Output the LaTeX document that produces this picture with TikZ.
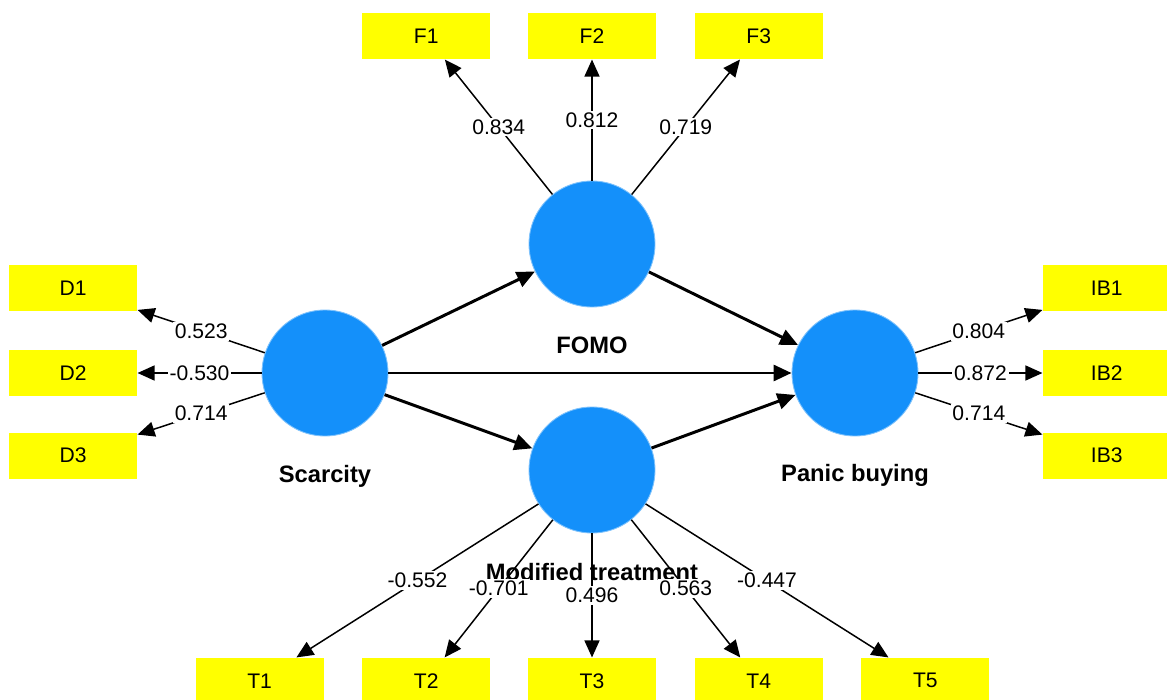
\documentclass[tikz,border=0pt]{standalone}
\usepackage{fontspec}
\setmainfont{Liberation Sans}
\definecolor{lvblue}{RGB}{20, 144, 250}
\definecolor{mvyellow}{RGB}{255, 255, 0}
\usetikzlibrary{arrows.meta, positioning}

\begin{document}
\begin{tikzpicture}[
    node distance=0.74cm and 0.76cm,
    latent/.style={circle, fill=lvblue, draw=lvblue!55, line width=0.5pt,
                   minimum size=2.52cm, inner sep=0pt},
    indicator/.style={rectangle, fill=mvyellow, minimum width=2.56cm,
                      minimum height=0.92cm, inner sep=0pt,
                      font=\fontsize{12}{14}\selectfont},
    lvname/.style={inner sep=0pt, font=\fontsize{13.5}{16}\selectfont\bfseries},
    loading/.style={-{Triangle[length=0.34cm, width=0.3cm]}, line width=0.85pt},
    structural/.style={-{Triangle[length=0.36cm, width=0.32cm]}, line width=1.7pt},
    weight/.style={fill=white, inner sep=1pt, font=\fontsize{12}{14}\selectfont}
  ]
  \useasboundingbox (0,0) rectangle (23.34,-14);

  % Latent variables
  \node[latent] (fomo) at (11.84,-4.88) {};
  \node[latent] (scar) at (6.50,-7.46) {};
  \node[latent] (panic) at (17.10,-7.46) {};
  \node[latent] (modt) at (11.84,-9.40) {};

  % Construct names
  \node[lvname, below=0.58cm of fomo] (fomoname) {FOMO};
  \node[lvname, below=0.58cm of scar] (scarname) {Scarcity};
  \node[lvname, below=0.56cm of panic] (panicname) {Panic buying};
  \node[lvname, below=0.6cm of modt] (modtname) {Modified treatment};

  % Indicators — FOMO
  \node[indicator, above=2.42cm of fomo] (f2) {F2};
  \node[indicator, left=0.74cm of f2] (f1) {F1};
  \node[indicator, right=of f2] (f3) {F3};

  % Indicators — Scarcity
  \node[indicator, left=2.48cm of scar] (d2) {D2};
  \node[indicator, above=0.76cm of d2] (d1) {D1};
  \node[indicator, below=0.72cm of d2] (d3) {D3};

  % Indicators — Panic buying
  \node[indicator, right=2.48cm of panic] (ib2) {IB2};
  \node[indicator, above=0.76cm of ib2] (ib1) {IB1};
  \node[indicator, below=0.72cm of ib2] (ib3) {IB3};

  % Indicators — Modified treatment
  \node[indicator, below=2.48cm of modt] (t3) {T3};
  \node[indicator, left=0.74cm of t3] (t2) {T2};
  \node[indicator, left=of t2] (t1) {T1};
  \node[indicator, right=of t3] (t4) {T4};
  \node[indicator, right=of t4] (t5) {T5};

  % Outer model
  \draw[loading] (fomo) -- node[weight] {0.834} (f1);
  \draw[loading] (fomo) -- node[weight] {0.812} (f2);
  \draw[loading] (fomo) -- node[weight] {0.719} (f3);

  \draw[loading] (scar) -- node[weight] {0.523} (d1);
  \draw[loading] (scar) -- node[weight] {-0.530} (d2);
  \draw[loading] (scar) -- node[weight] {0.714} (d3);

  \draw[loading] (panic) -- node[weight] {0.804} (ib1);
  \draw[loading] (panic) -- node[weight] {0.872} (ib2);
  \draw[loading] (panic) -- node[weight] {0.714} (ib3);

  \draw[loading] (modt) -- node[weight] {-0.552} (t1);
  \draw[loading] (modt) -- node[weight] {-0.701} (t2);
  \draw[loading] (modt) -- node[weight] {0.496} (t3);
  \draw[loading] (modt) -- node[weight] {0.563} (t4);
  \draw[loading] (modt) -- node[weight] {-0.447} (t5);

  % Inner model
  \draw[structural] (scar) -- (fomo);
  \draw[structural] (scar) -- (panic);
  \draw[structural] (scar) -- (modt);
  \draw[structural] (fomo) -- (panic);
  \draw[structural] (modt) -- (panic);

\end{tikzpicture}
\end{document}
